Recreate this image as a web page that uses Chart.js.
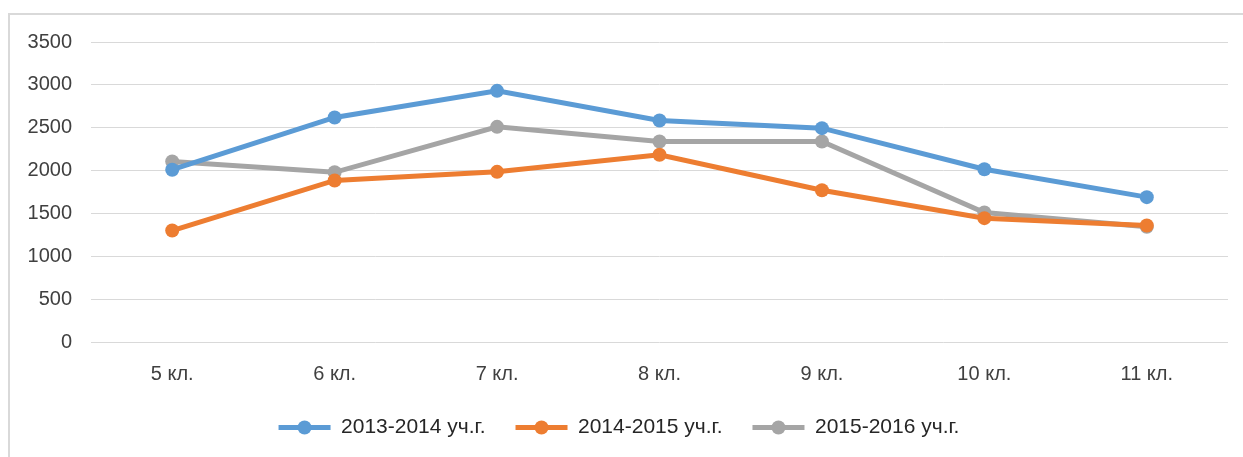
<!DOCTYPE html>
<html>
<head>
<meta charset="utf-8">
<script src="https://cdn.jsdelivr.net/npm/chart.js@4/dist/chart.umd.min.js"></script>
<style>
  html, body { margin: 0; padding: 0; background: #fff; overflow: hidden; }
  body { width: 1243px; height: 457px; position: relative; }
  .frame { position: absolute; left: 8px; top: 13px; width: 1260px; height: 470px; border: 2px solid #d9d9d9; }
  .box { position: absolute; left: 10px; top: 11px; width: 1233px; height: 437px; }
</style>
</head>
<body>
<div class="frame"></div>
<div class="box"><canvas id="chart"></canvas></div>
<script>
// Grades (x axis)
const grades = ['5 кл.', '6 кл.', '7 кл.', '8 кл.', '9 кл.', '10 кл.', '11 кл.'];

// Series
const year2013 = [2010, 2620, 2930, 2585, 2495, 2015, 1690];
const year2014 = [1300, 1885, 1985, 2185, 1770, 1445, 1360];
const year2015 = [2105, 1980, 2510, 2340, 2340, 1510, 1345];

const seriesNames = ['2013-2014 уч.г.', '2014-2015 уч.г.', '2015-2016 уч.г.'];
const seriesColors = ['#5b9bd5', '#ed7d31', '#a5a5a5'];

// y axis ticks
const yMin = 0;
const yMax = 3500;
const yStep = 500;

const font = "'Liberation Sans', Arial, sans-serif";

function makeSet(name, values, color) {
  return {
    label: name,
    data: values,
    borderColor: color,
    backgroundColor: color,
    borderWidth: 5,
    pointRadius: 7,
    pointHoverRadius: 7,
    pointBackgroundColor: color,
    pointBorderColor: color,
    pointBorderWidth: 0,
    tension: 0
  };
}

// draws the marker dot over each legend line sample
const legendDots = {
  id: 'legendDots',
  afterDraw(chart) {
    const legend = chart.legend;
    if (!legend || !legend.legendHitBoxes) return;
    const ctx = chart.ctx;
    const bw = legend.options.labels.boxWidth;
    legend.legendHitBoxes.forEach((hb, i) => {
      ctx.save();
      ctx.fillStyle = seriesColors[i];
      ctx.beginPath();
      ctx.arc(hb.left + bw / 2, hb.top + hb.height / 2, 7, 0, Math.PI * 2);
      ctx.fill();
      ctx.restore();
    });
  }
};

new Chart(document.getElementById('chart'), {
  type: 'line',
  data: {
    labels: grades,
    datasets: [
      makeSet(seriesNames[0], year2013, seriesColors[0]),
      makeSet(seriesNames[1], year2014, seriesColors[1]),
      makeSet(seriesNames[2], year2015, seriesColors[2])
    ]
  },
  options: {
    responsive: true,
    maintainAspectRatio: false,
    animation: false,
    layout: { padding: { left: 0, right: 15, top: 10, bottom: 0 } },
    plugins: {
      tooltip: { enabled: false },
      legend: {
        position: 'bottom',
        labels: {
          boxWidth: 52,
          boxHeight: 5,
          padding: 30,
          color: '#262626',
          font: { family: font, size: 21 },
          generateLabels: chart => Chart.defaults.plugins.legend.labels.generateLabels(chart)
            .map(l => ({ ...l, lineWidth: 0 }))
        }
      }
    },
    scales: {
      x: {
        offset: true,
        grid: { display: false, drawTicks: false },
        border: { display: false },
        ticks: { color: '#404040', padding: 20, font: { family: font, size: 20 } },
        afterFit: scale => { scale.height = 45; }
      },
      y: {
        min: yMin,
        max: yMax,
        grid: { color: '#d9d9d9', lineWidth: 1, drawTicks: false },
        border: { display: false },
        ticks: {
          stepSize: yStep,
          color: '#404040',
          padding: 19,
          font: { family: font, size: 20 },
          callback: v => String(v)
        },
        afterFit: scale => { scale.width = 81; }
      }
    }
  },
  plugins: [legendDots]
});
</script>
</body>
</html>
